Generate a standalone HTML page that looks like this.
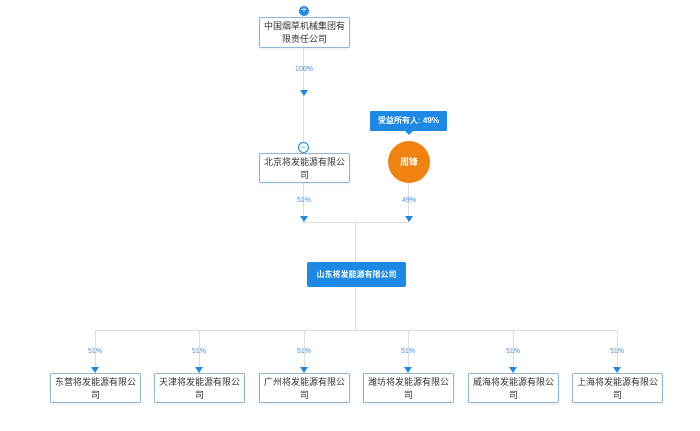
<!DOCTYPE html><html><head><meta charset="utf-8"><style>
body{margin:0;width:700px;height:431px;background:#fff;position:relative;overflow:hidden;font-family:"Liberation Sans","Noto Sans CJK SC",sans-serif}
.b{position:absolute;border:1px solid #8fb8d6;border-radius:2px;background:#fff;font-size:9px;color:#333;text-align:center;line-height:13px;box-sizing:border-box;padding-top:2px;box-shadow:0 1px 2px rgba(0,0,0,.08)}
.p{position:absolute;font-size:7px;color:#4a90d9;width:40px;text-align:center}
.l{position:absolute;background:#ddd}
.a{position:absolute;width:0;height:0;border-left:4px solid transparent;border-right:4px solid transparent;border-top:6px solid #1e88e5}
</style></head><body>
<div class="l" style="left:303px;top:47px;width:1px;height:106px"></div>
<div class="l" style="left:408px;top:183px;width:1px;height:39px"></div>
<div class="l" style="left:303px;top:182px;width:1px;height:40px"></div>
<div class="l" style="left:303px;top:222px;width:106px;height:1px"></div>
<div class="l" style="left:355px;top:222px;width:1px;height:108px"></div>
<div class="l" style="left:95px;top:330px;width:523px;height:1px"></div>
<div style="position:absolute;left:299px;top:6px;width:10px;height:10px;border-radius:50%;background:#1e88e5;color:#fff;font-size:10px;line-height:10px;text-align:center">+</div>
<div class="b" style="left:259px;top:17px;width:91px;height:31px">中国烟草机械集团有<br>限责任公司</div>
<div class="p" style="left:284px;top:66px">100%</div>
<div class="a" style="left:300px;top:90px"></div>
<div style="position:absolute;left:298px;top:142px;width:9px;height:9px;border-radius:50%;border:1px solid #1e88e5;background:#fff;color:#1e88e5;font-size:9px;line-height:8px;text-align:center">−</div>
<div class="b" style="left:259px;top:153px;width:91px;height:30px">北京将发能源有限公<br>司</div>
<div style="position:absolute;left:370px;top:111px;width:77px;height:20px;background:#1e88e5;color:#fff;font-size:8px;font-weight:bold;text-align:center;line-height:20px;border-radius:1px">受益所有人: 49%</div>
<div style="position:absolute;left:405px;top:131px;border-left:4px solid transparent;border-right:4px solid transparent;border-top:4px solid #1e88e5"></div>
<div style="position:absolute;left:388px;top:141px;width:42px;height:42px;border-radius:50%;background:#f0820f;color:#fff;font-size:9px;font-weight:bold;line-height:42px;text-align:center">周锋</div>
<div class="p" style="left:284px;top:197px">51%</div>
<div class="p" style="left:389px;top:197px">49%</div>
<div class="a" style="left:300px;top:216px"></div>
<div class="a" style="left:405px;top:216px"></div>
<div style="position:absolute;left:307px;top:262px;width:99px;height:25px;background:#1e88e5;border-radius:2px;color:#fff;font-size:8px;font-weight:bold;text-align:center;line-height:25px">山东将发能源有限公司</div>
<div id="k"></div>
<script>
var n=["东营","天津","广州","潍坊","威海","上海"],c=[95,199,304,408,513,617],h="";
for(var i=0;i<6;i++){var x=c[i];
h+='<div class="l" style="left:'+x+'px;top:330px;width:1px;height:43px"></div>';
h+='<div class="p" style="left:'+(x-20)+'px;top:348px">51%</div>';
h+='<div class="a" style="left:'+(x-4)+'px;top:367px"></div>';
h+='<div class="b" style="left:'+(x-45)+'px;top:373px;width:91px;height:30px">'+n[i]+'将发能源有限公<br>司</div>';}
document.getElementById("k").innerHTML=h;
</script>
</body></html>
